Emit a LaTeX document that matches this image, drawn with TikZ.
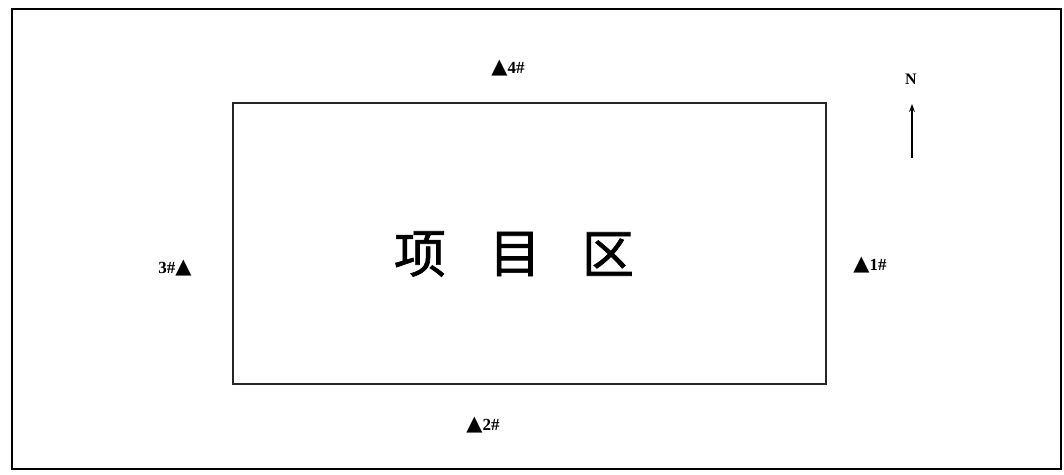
\documentclass[tikz,border=0pt]{standalone}
\usepackage{fontspec}
\setmainfont{Liberation Serif}
\newfontfamily\cjk[FakeBold=1.2]{Noto Sans CJK SC}
\newfontfamily\symf{DejaVu Sans}
\usetikzlibrary{arrows.meta}
\newcommand{\tri}{{\symf\fontsize{21}{21}\selectfont ▲}}
\begin{document}
\begin{tikzpicture}[x=1pt,y=-1pt,
  lbl/.style={font=\bfseries\fontsize{17}{17}\selectfont, inner sep=0pt},
  zh/.style={font=\cjk\fontsize{52}{52}\selectfont, inner sep=0pt},
  frame/.style={draw=black, line width=2.8pt},
  area/.style={draw=black!85, line width=1.6pt}]
\useasboundingbox (0,0) rectangle (1064,474);
\draw[frame] (12,9) rectangle (1061,469);
\node[area, minimum width=593pt, minimum height=281pt, inner sep=0pt] (area) at (529.5,243.5) {};
\node[zh] (c1) at (420,254) {项};
\node[zh] (c2) at (515,254) {目};
\node[zh] (c3) at (608,254) {区};
\node[lbl] (p4) at (508,68) {\tri4\#};
\node[lbl] (p2) at (483,425) {\tri2\#};
\node[lbl] (p3) at (175,268) {3\#\tri};
\node[lbl] (p1) at (870,265) {\tri1\#};
\node[lbl, font=\bfseries\fontsize{16}{16}\selectfont] (n) at (911,79) {N};
\coordinate (s) at (912,158);
\coordinate (e) at (912,104);
\draw[line width=1.1pt, -{Stealth[length=8pt,width=6pt]}] (s) -- (e);
\end{tikzpicture}
\end{document}
